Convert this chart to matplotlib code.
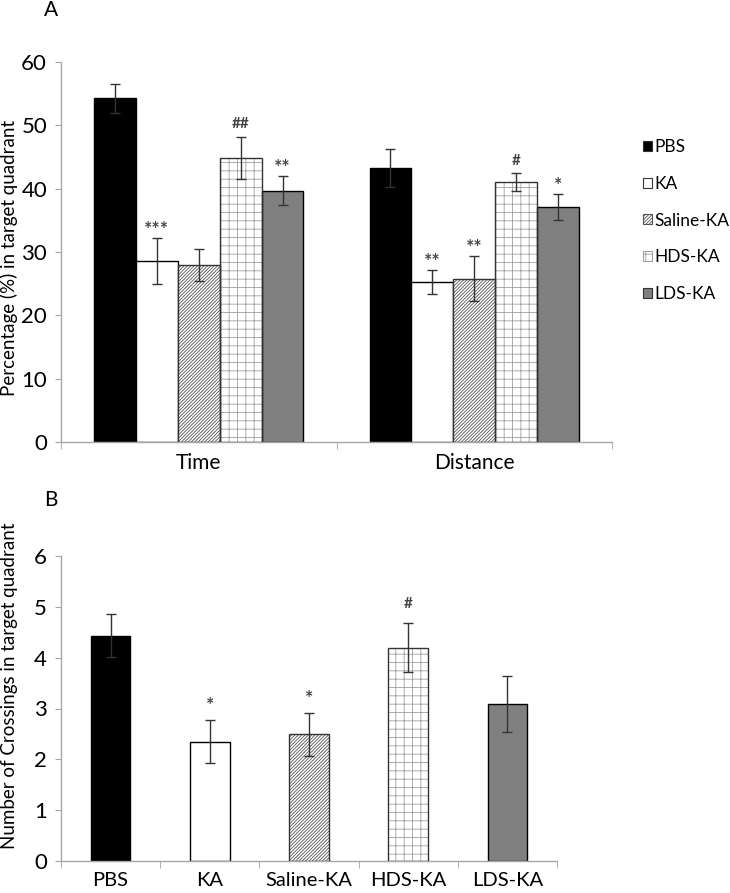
import matplotlib
matplotlib.use("Agg")
from matplotlib import pyplot as plt
from matplotlib.patches import Patch
import numpy as np

plt.rcParams['font.family'] = ['Lato', 'DejaVu Sans']
plt.rcParams['hatch.linewidth'] = 0.6

# groups / treatments
groups = ["PBS", "KA", "Saline-KA", "HDS-KA", "LDS-KA"]
measures = ["Time", "Distance"]

# panel A: percentage in target quadrant (rows = measure, cols = group)
pct_mean = [[54.3, 28.6, 27.9, 44.9, 39.7],
            [43.3, 25.3, 25.8, 41.0, 37.1]]
pct_err = [[2.3, 3.6, 2.5, 3.3, 2.3],
           [3.0, 1.9, 3.5, 1.4, 2.1]]
pct_marks = [["", "***", "", "##", "**"],
             ["", "**", "**", "#", "*"]]

# panel B: number of crossings
cross_mean = [4.43, 2.35, 2.49, 4.20, 3.09]
cross_err = [0.42, 0.42, 0.42, 0.48, 0.55]
cross_marks = ["", "*", "*", "#", ""]

# style per group: (face, hatch, hatch colour)
styles = [("black", None, None),
          ("white", None, None),
          ("white", "/" * 10, "#555555"),
          ("white", "++", "#a0a0a0"),
          ("#808080", None, None)]

spine_col = "#a6a6a6"


def draw_bar(ax, x, h, w, i):
    face, hatch, hcol = styles[i]
    if hatch:
        ax.bar(x, h, w, color=face, edgecolor=hcol, hatch=hatch, linewidth=0, zorder=2)
        ax.bar(x, h, w, fill=False, edgecolor="#333333", linewidth=1.0, zorder=3)
    else:
        ax.bar(x, h, w, color=face, edgecolor="black", linewidth=1.0, zorder=2)


def style_axis(ax, n, xsize):
    for s in ["top", "right"]:
        ax.spines[s].set_visible(False)
    for s in ["left", "bottom"]:
        ax.spines[s].set_color(spine_col)
        ax.spines[s].set_linewidth(1.0)
    ax.set_xlim(-0.5, n - 0.5)
    ax.set_xticks(np.arange(n))
    ax.set_xticks(np.arange(n + 1) - 0.5, minor=True)
    ax.tick_params(axis="x", which="major", length=0, pad=8, labelsize=xsize)
    ax.tick_params(axis="x", which="minor", length=5, color=spine_col, direction="out")
    ax.tick_params(axis="y", length=4, color=spine_col, pad=6, labelsize=16)


def mark(ax, txt, x, y):
    # asterisks sit low in the font, hashes are smaller
    size = 14 if "*" in txt else 11
    off = 0 if "*" in txt else 4
    ax.annotate(txt, (x, y), xytext=(0, off), textcoords="offset points", ha="center",
                va="bottom", fontsize=size, color="#444444", fontweight="bold")


fig = plt.figure(figsize=(7.30, 8.93), dpi=100)

# ---- panel A
axA = fig.add_axes([61 / 730, 1 - 442 / 893, 551 / 730, 380 / 893])
w = 0.152
for m in range(len(measures)):
    for i in range(len(groups)):
        x = m + (i - 2) * w
        draw_bar(axA, x, pct_mean[m][i], w, i)
        axA.errorbar(x, pct_mean[m][i], yerr=pct_err[m][i], fmt="none",
                     ecolor="#333333", elinewidth=1.0, capsize=3.5, capthick=1.0, zorder=4)
        if pct_marks[m][i]:
            mark(axA, pct_marks[m][i], x, pct_mean[m][i] + pct_err[m][i])
axA.set_ylim(0, 60)
axA.set_yticks(range(0, 61, 10))
style_axis(axA, len(measures), 15)
axA.set_xticklabels(measures)
axA.set_ylabel("Percentage (%) in target quadrant", fontsize=13.5)
axA.yaxis.set_label_coords(18 / 730, 1 - 258 / 893, transform=fig.transFigure)

handles = []
for i, g in enumerate(groups):
    face, hatch, hcol = styles[i]
    handles.append(Patch(facecolor=face, edgecolor=hcol if hatch else "#333333",
                         hatch=hatch, linewidth=0.8, label=g))
fig.legend(handles=handles, loc="upper left", bbox_to_anchor=(636 / 730, 1 - 132 / 893),
           frameon=False, fontsize=12.5, handlelength=0.5, handleheight=0.5,
           handletextpad=0.15, labelspacing=1.2, borderaxespad=0)

fig.text(51 / 730, 1 - 10 / 893, "A", fontsize=15, ha="center", va="center")

# ---- panel B
axB = fig.add_axes([61 / 730, 1 - 861 / 893, 496 / 730, 305 / 893])
wb = 0.4
for i in range(len(groups)):
    draw_bar(axB, i, cross_mean[i], wb, i)
    axB.errorbar(i, cross_mean[i], yerr=cross_err[i], fmt="none",
                 ecolor="#333333", elinewidth=1.0, capsize=3.5, capthick=1.0, zorder=4)
    if cross_marks[i]:
        mark(axB, cross_marks[i], i, cross_mean[i] + cross_err[i] + 0.12)
axB.set_ylim(0, 6)
axB.set_yticks(range(0, 7))
style_axis(axB, len(groups), 14.5)
axB.set_xticklabels(groups)
axB.set_ylabel("Number of Crossings in target quadrant", fontsize=13.5)
axB.yaxis.set_label_coords(18 / 730, 1 - 686 / 893, transform=fig.transFigure)

fig.text(51 / 730, 1 - 500 / 893, "B", fontsize=15, ha="center", va="center")

fig.savefig("out.png", dpi=100)
